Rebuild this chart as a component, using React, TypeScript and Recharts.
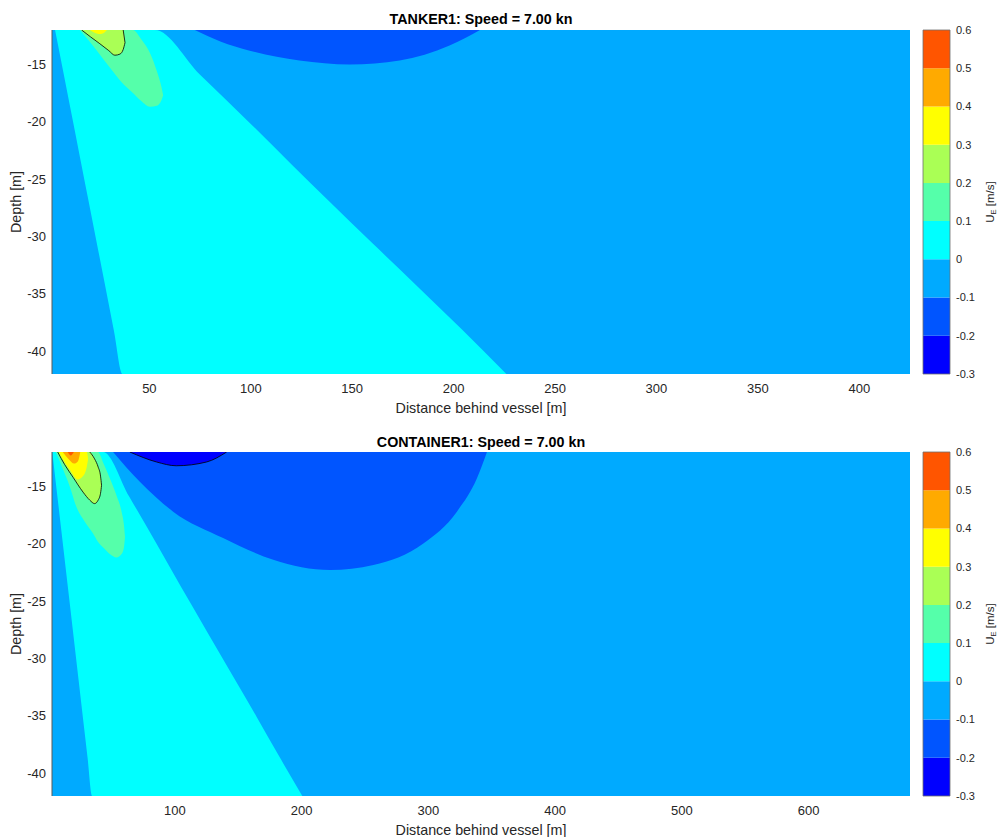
import React from "react";
import { Area, ComposedChart, Line, ReferenceArea, XAxis, YAxis } from "recharts";

const FONT = 'Arial, "Liberation Sans", Helvetica, sans-serif';
const INK = "#262626";

// contour levels (m/s) and the jet colour of each band between them
const levels = [-0.3, -0.2, -0.1, 0, 0.1, 0.2, 0.3, 0.4, 0.5, 0.6];
const bandColors = ["#0000ff", "#0055ff", "#00aaff", "#00ffff", "#55ffaa", "#aaff55", "#ffff00", "#ffaa00", "#ff5500"];

const depthDomain = [-42, -12];
const depthTicks = [-40, -35, -30, -25, -20, -15];

const tankerXDomain = [2, 425];
const tankerXTicks = [50, 100, 150, 200, 250, 300, 350, 400];
const containerXDomain = [3, 680];
const containerXTicks = [100, 200, 300, 400, 500, 600];

// filled regions: [distance, lower depth, upper depth]
const tankerCyan = [
  [3.5, -12, -12], [7.5, -15.6, -12], [11.7, -19.4, -12], [16, -23.3, -12], [20, -26.9, -12],
  [24, -30.5, -12], [28, -34.1, -12], [32.5, -38.2, -12], [36.7, -42, -12], [52.7, -42, -12],
  [75, -42, -15.9], [99.5, -42, -20.1], [120, -42, -23.7], [139, -42, -27.0], [160, -42, -30.6],
  [181.8, -42, -34.3], [204, -42, -38.1], [226, -42, -42],
];
const tankerBlue = [
  [72.4, -12, -12], [85, -13.0, -12], [99.5, -13.8, -12], [124, -14.65, -12], [148.8, -15.0, -12],
  [173.4, -14.65, -12], [198, -13.35, -12], [213, -12, -12],
];
const tankerGreen = [
  [15.8, -12, -12], [20, -12.9, -12], [25, -14.0, -12], [30.6, -15.3, -12], [36, -16.5, -12],
  [41.9, -17.5, -12], [46, -18.2, -12.8], [50.3, -18.7, -14.0], [53.7, -18.6, -15.6],
  [56, -18.1, -17.0], [56.8, -17.7, -17.7],
];
const tankerLime = [
  [16.6, -12, -12], [21, -12.6, -12], [25.6, -13.2, -12], [30, -13.8, -12], [33, -14.2, -12],
  [35.5, -14.1, -12], [37.1, -13.7, -12], [38, -13.1, -13.1],
];
const tankerYellow = [
  [20.7, -12, -12], [23, -12.25, -12], [25, -12.35, -12], [27, -12.3, -12], [29.1, -12, -12],
];

const containerCyan = [
  [3.2, -12, -12], [10, -18.5, -12], [17, -25.2, -12], [24, -31.9, -12], [31, -38.6, -12],
  [34.6, -42, -12], [43.3, -42, -12], [64, -42, -15.9], [85.5, -42, -20.0], [105, -42, -23.8],
  [125, -42, -27.6], [145, -42, -31.4], [164.5, -42, -35.1], [182, -42, -38.5], [200.5, -42, -42],
];
const containerBlue = [
  [51.2, -12, -12], [72.3, -14.6, -12], [98.6, -17.2, -12], [138, -19.5, -12], [177.6, -21.4, -12],
  [222.4, -22.3, -12], [256.6, -21.85, -12], [296, -19.97, -12], [322.5, -17.2, -12],
  [338.3, -14.3, -12], [346.2, -12, -12],
];
const containerDeep = [
  [64.4, -12, -12], [85.5, -12.87, -12], [101, -13.2, -12], [125, -12.87, -12], [140.8, -12, -12],
];
const containerGreen = [
  [6, -12, -12], [12, -13.6, -12], [17, -15.0, -12], [22.3, -16.8, -12], [29, -18.1, -12],
  [35.4, -19.1, -12], [39.1, -19.8, -12], [44, -20.4, -13.1], [48.6, -20.9, -14.3],
  [53.9, -21.2, -15.8], [57.9, -20.9, -17.2], [59.8, -20.3, -18.4], [60.6, -19.4, -19.4],
];
const containerLime = [
  [7.5, -12, -12], [13, -13.1, -12], [19.6, -14.2, -12], [27.5, -15.5, -12], [32.8, -16.2, -12],
  [36.6, -16.5, -12.6], [39.4, -16.2, -13.3], [41.3, -15.6, -14.1], [42.1, -14.9, -14.9],
];
const containerYellow = [
  [8.3, -12, -12], [13, -12.9, -12], [18, -13.7, -12], [23.3, -14.4, -12], [27.5, -14.1, -12],
  [30.4, -13.3, -12], [31.5, -12.6, -12.6],
];
const containerOrange = [
  [11.5, -12, -12], [16, -12.6, -12], [20.5, -13.0, -12], [23.5, -12.8, -12], [25.3, -12, -12],
];
const containerRed = [
  [15.4, -12, -12], [17.8, -12.3, -12], [20.2, -12, -12],
];

const toBand = (pts) => pts.map(([x, lo, hi]) => ({ x, band: [lo, hi] }));

// black contour line: lower edge plus the part of the upper edge below the surface
const outlineParts = (pts) => {
  const lower = pts.map(([x, lo]) => ({ x, y: lo }));
  let last = 0;
  pts.forEach(([, , hi], i) => {
    if (hi === depthDomain[1]) last = i;
  });
  const upper = pts.slice(last).map(([x, , hi]) => ({ x, y: hi }));
  return upper.length > 1 ? [lower, upper] : [lower];
};

const tankerLayers = [
  { pts: tankerCyan, color: bandColors[3] },
  { pts: tankerBlue, color: bandColors[1] },
  { pts: tankerGreen, color: bandColors[4] },
  { pts: tankerLime, color: bandColors[5] },
  { pts: tankerYellow, color: bandColors[6] },
];
const containerLayers = [
  { pts: containerCyan, color: bandColors[3] },
  { pts: containerBlue, color: bandColors[1] },
  { pts: containerDeep, color: bandColors[0] },
  { pts: containerGreen, color: bandColors[4] },
  { pts: containerLime, color: bandColors[5] },
  { pts: containerYellow, color: bandColors[6] },
  { pts: containerOrange, color: bandColors[7] },
  { pts: containerRed, color: bandColors[8] },
];

const ContourPanel = ({ xDomain, xTicks, layers, outlines }) => {
  const background = [
    { x: xDomain[0], band: depthDomain },
    { x: xDomain[1], band: depthDomain },
  ];
  const lines = outlines.flatMap(outlineParts);
  return (
    <ComposedChart width={912} height={420} margin={{ top: 30, right: 2, bottom: 0, left: 0 }}>
      <Area data={background} dataKey="band" type="linear" fill={bandColors[2]} fillOpacity={1} stroke="none" isAnimationActive={false} />
      {layers.map((l, i) => (
        <Area
          key={i}
          data={toBand(l.pts)}
          dataKey="band"
          type="monotone"
          fill={l.color}
          fillOpacity={1}
          stroke="none"
          isAnimationActive={false}
        />
      ))}
      {lines.map((d, i) => (
        <Line
          key={"o" + i}
          data={d}
          dataKey="y"
          type="monotone"
          stroke="#000"
          strokeWidth={0.8}
          dot={false}
          activeDot={false}
          isAnimationActive={false}
        />
      ))}
      <XAxis
        dataKey="x"
        type="number"
        domain={xDomain}
        ticks={xTicks}
        allowDataOverflow
        axisLine={false}
        tickLine={false}
        tickSize={8}
        tickMargin={2}
        height={46}
        tick={{ fill: INK, fontSize: 13, fontFamily: FONT }}
        label={{
          content: ({ viewBox }) => {
            const vb = viewBox || { x: 52, y: 374, width: 858, height: 46 };
            return (
              <text x={vb.x + vb.width / 2} y={vb.y + 34} textAnchor="middle" dominantBaseline="central" fontSize={14.3} fill={INK} fontFamily={FONT}>
                Distance behind vessel [m]
              </text>
            );
          },
        }}
      />
      <YAxis
        type="number"
        domain={depthDomain}
        ticks={depthTicks}
        allowDataOverflow
        width={52}
        axisLine={{ stroke: "#5a5a5a" }}
        tickLine={false}
        tickSize={4}
        tickMargin={2}
        tick={{ fill: INK, fontSize: 13, fontFamily: FONT }}
        label={{
          content: ({ viewBox }) => {
            const vb = viewBox || { x: 0, y: 30, width: 52, height: 344 };
            const cx = vb.x + 16;
            const cy = vb.y + vb.height / 2;
            return (
              <text x={cx} y={cy} transform={`rotate(-90 ${cx} ${cy})`} textAnchor="middle" dominantBaseline="central" fontSize={14.3} fill={INK} fontFamily={FONT}>
                Depth [m]
              </text>
            );
          },
        }}
      />
    </ComposedChart>
  );
};

const ColorBar = () => {
  const bands = bandColors.map((color, i) => ({
    color,
    data: [
      { x: 0, band: [levels[i], levels[i + 1]] },
      { x: 1, band: [levels[i], levels[i + 1]] },
    ],
  }));
  const lo = levels[0];
  const hi = levels[levels.length - 1];
  return (
    <ComposedChart width={98} height={420} margin={{ top: 30, right: 0, bottom: 46, left: 23 }}>
      {bands.map((b, i) => (
        <Area key={i} data={b.data} dataKey="band" type="linear" fill={b.color} fillOpacity={1} stroke="none" isAnimationActive={false} />
      ))}
      <ReferenceArea x1={0} x2={1} y1={lo} y2={hi} fill="none" stroke="#6e6e6e" strokeWidth={0.8} ifOverflow="visible" />
      <XAxis dataKey="x" type="number" domain={[0, 1]} hide />
      <YAxis
        type="number"
        orientation="right"
        domain={[lo, hi]}
        ticks={levels}
        allowDataOverflow
        width={48}
        axisLine={false}
        tickLine={false}
        tickSize={4}
        tickMargin={2}
        interval={0}
        tick={{ fill: INK, fontSize: 11, fontFamily: FONT }}
        label={{
          content: ({ viewBox }) => {
            const vb = viewBox || { x: 50, y: 30, width: 48, height: 344 };
            const cx = vb.x + 40;
            const cy = vb.y + vb.height / 2;
            return (
              <text x={cx} y={cy} transform={`rotate(-90 ${cx} ${cy})`} textAnchor="middle" dominantBaseline="central" fontSize={11.5} fill={INK} fontFamily={FONT}>
                U<tspan dy={3} fontSize={7.5}>E</tspan>
                <tspan dy={-3}> [m/s]</tspan>
              </text>
            );
          },
        }}
      />
    </ComposedChart>
  );
};

const titleStyle: React.CSSProperties = {
  position: "absolute",
  left: 52,
  width: 858,
  textAlign: "center",
  fontFamily: FONT,
  fontWeight: "bold",
  fontSize: 14.3,
  lineHeight: "16px",
  color: "#000",
};

const App = () => {
  return (
    <div style={{ position: "absolute", left: 0, top: 0, width: 998, height: 837, background: "#fff", fontFamily: FONT }}>
      <div style={{ ...titleStyle, top: 11 }}>TANKER1: Speed = 7.00 kn</div>
      <div style={{ position: "absolute", left: 0, top: 0 }}>
        <ContourPanel xDomain={tankerXDomain} xTicks={tankerXTicks} layers={tankerLayers} outlines={[tankerLime]} />
      </div>
      <div style={{ position: "absolute", left: 900, top: 0 }}>
        <ColorBar />
      </div>

      <div style={{ ...titleStyle, top: 434 }}>CONTAINER1: Speed = 7.00 kn</div>
      <div style={{ position: "absolute", left: 0, top: 422 }}>
        <ContourPanel
          xDomain={containerXDomain}
          xTicks={containerXTicks}
          layers={containerLayers}
          outlines={[containerLime, containerDeep]}
        />
      </div>
      <div style={{ position: "absolute", left: 900, top: 422 }}>
        <ColorBar />
      </div>
    </div>
  );
};

export default App;
